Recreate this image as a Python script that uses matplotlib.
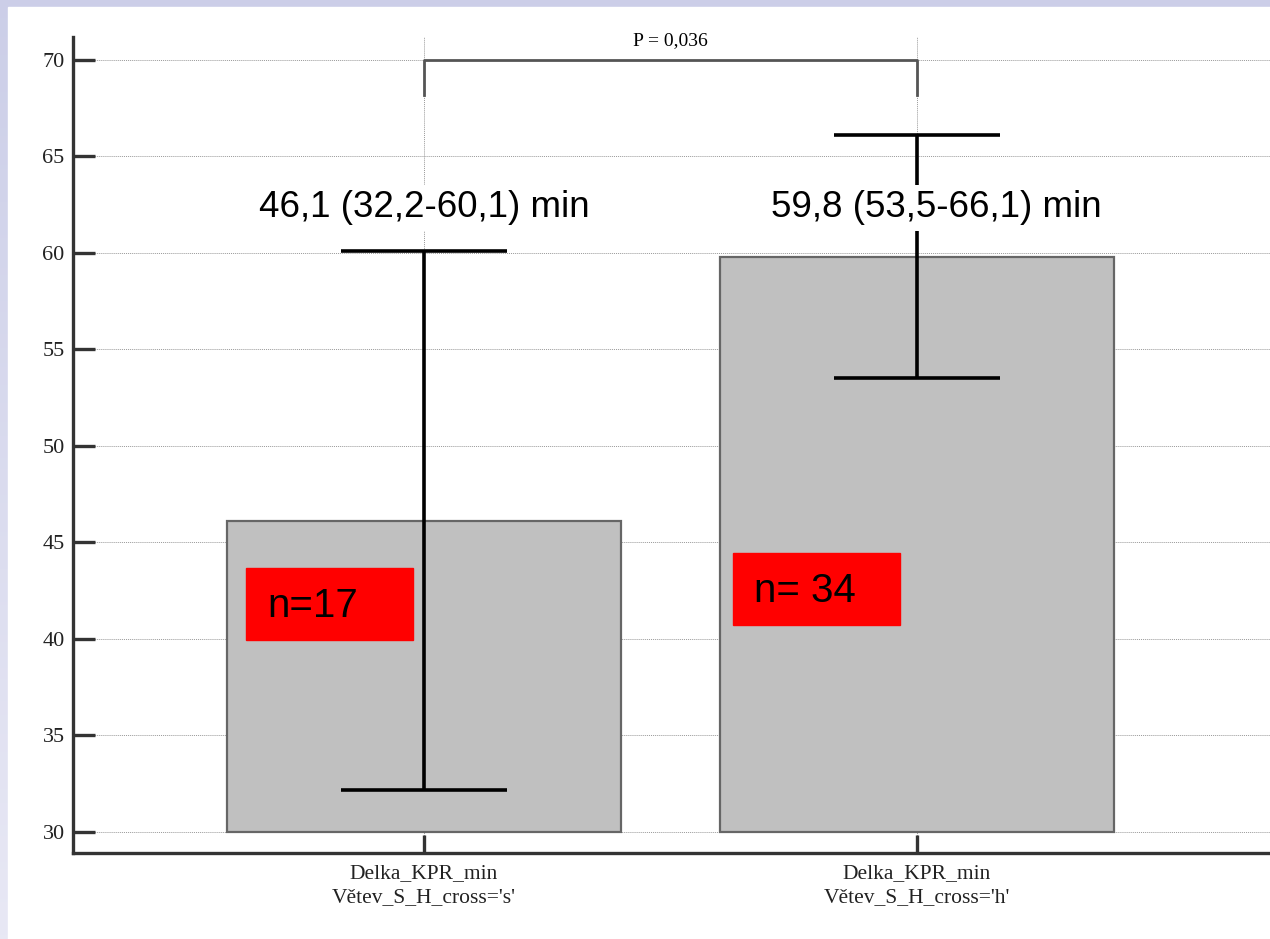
import numpy as np
import matplotlib
matplotlib.use("Agg")
import matplotlib.pyplot as plt
from matplotlib.patches import Rectangle

# data
groups = ["Delka_KPR_min\nVětev_S_H_cross='s'", "Delka_KPR_min\nVětev_S_H_cross='h'"]
means = np.array([46.1, 59.8])
ci_low = np.array([32.2, 53.5])
ci_high = np.array([60.1, 66.1])
counts = [17, 34]
p_value = "0,036"
base = 30
yticks = [30, 35, 40, 45, 50, 55, 60, 65, 70]

fig = plt.figure(figsize=(12.7, 9.39), dpi=100)

# slide background: lavender strip on top/left, white page
bg = fig.add_axes([0, 0, 1, 1], zorder=-10)
grad = np.linspace(0, 1, 256).reshape(-1, 1)
top_c = np.array([0.80, 0.81, 0.91])
bot_c = np.array([0.91, 0.91, 0.96])
img = top_c[None, None, :] * (1 - grad[:, :, None]) + bot_c[None, None, :] * grad[:, :, None]
bg.imshow(img, aspect="auto", extent=[0, 1, 0, 1])
bg.add_patch(Rectangle((8 / 1270, 0), 1, 1 - 7 / 939, color="white"))
bg.set_xlim(0, 1)
bg.set_ylim(0, 1)
bg.axis("off")

ax = fig.add_axes([73 / 1270, 1 - 853 / 939, 1 - 73 / 1270, (853 - 37) / 939])
ax.patch.set_alpha(0)
x = np.arange(len(groups))

ax.bar(x, means - base, bottom=base, width=0.8, color="#c0c0c0",
       edgecolor="#666666", linewidth=1.6, zorder=2)
ax.errorbar(x, means, yerr=[means - ci_low, ci_high - means], fmt="none",
            ecolor="black", elinewidth=2.6, capsize=60, capthick=2.6, zorder=3)

ax.set_xlim(-0.712, 1.716)
ax.set_ylim(28.91, 71.19)
ax.set_yticks(yticks)
ax.set_xticks(x)
ax.set_xticklabels(groups, fontfamily="Liberation Serif", fontsize=15.5,
                   color="#222222", linespacing=1.35)
for lab in ax.get_yticklabels():
    lab.set_fontfamily("Liberation Serif")
    lab.set_fontsize(16)
    lab.set_color("#222222")

ax.grid(True, linestyle=(0, (1, 1)), color="#999999", linewidth=0.7, zorder=0)
ax.set_axisbelow(True)
for s in ["top", "right"]:
    ax.spines[s].set_visible(False)
for s in ["left", "bottom"]:
    ax.spines[s].set_color("#333333")
    ax.spines[s].set_linewidth(2.4)
ax.tick_params(axis="y", direction="in", length=16, width=2.4, color="#333333", pad=6)
ax.tick_params(axis="x", direction="in", length=13, width=2.4, color="#333333", pad=8)

# mean (CI) labels
label_x = [0.0, 1.04]
for xi, m, lo, hi in zip(label_x, means, ci_low, ci_high):
    txt = f"{m:.1f} ({lo:.1f}-{hi:.1f}) min".replace(".", ",")
    ax.text(xi, 62.35, txt, ha="center", va="center", fontsize=26.5,
            fontfamily="Liberation Sans", zorder=5,
            bbox=dict(facecolor="white", edgecolor="none", pad=4))

# n boxes
box_pos = [(-0.361, 39.95), (0.627, 40.73)]
box_txt = [f"n={counts[0]}", f"n= {counts[1]}"]
for (bx, by), t in zip(box_pos, box_txt):
    ax.add_patch(Rectangle((bx, by), 0.339, 3.73, color="#ff0000", zorder=4))
    ax.text(bx + 0.043, by + 1.75, t, ha="left", va="center", fontsize=29,
            fontfamily="Liberation Sans", zorder=5)

# significance bracket
ax.plot([x[0], x[0], x[1], x[1]], [68.2, 70, 70, 68.2], color="#555555",
        linewidth=2, clip_on=False, zorder=4)
ax.text(x.mean(), 70.55, f"P = {p_value}", ha="center", va="bottom",
        fontsize=14, fontfamily="Liberation Serif")

fig.savefig("out.png", dpi=100)
